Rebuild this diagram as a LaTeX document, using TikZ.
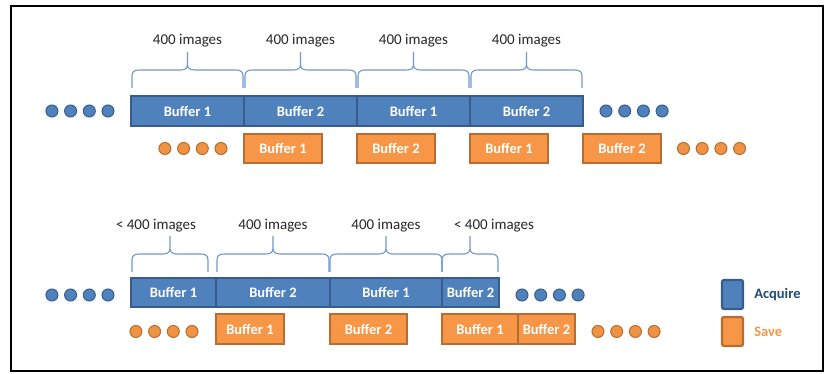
\documentclass[tikz,border=0pt]{standalone}
\usepackage{fontspec}
\setmainfont{Carlito}
\usepackage{tikz}
\usetikzlibrary{positioning,calc}

\definecolor{acqfill}{HTML}{4F81BD}
\definecolor{acqline}{HTML}{385D8A}
\definecolor{acqtext}{HTML}{1F497D}
\definecolor{savefill}{HTML}{F79646}
\definecolor{saveline}{HTML}{B66D31}
\definecolor{bracecol}{HTML}{6F98CC}

% #1 tip name, #2 left point, #3 right point, #4 raise above the bar
\newcommand{\imgbrace}[4]{%
  \draw[brace line] let \p1=#2, \p2=#3 in
    (\x1,\y1+#4) -- (\x1,\y1+#4+12pt)
    .. controls (\x1,\y1+#4+16pt) and (\x1+2pt,\y1+#4+18pt) .. (\x1+7pt,\y1+#4+18pt)
    -- ({(\x1+\x2)/2-7pt},\y1+#4+18pt)
    .. controls ({(\x1+\x2)/2-2pt},\y1+#4+18pt) and ({(\x1+\x2)/2},\y1+#4+20pt) .. ({(\x1+\x2)/2},\y1+#4+24pt)
    -- ({(\x1+\x2)/2},\y1+#4+36pt) coordinate (#1)
    ({(\x1+\x2)/2},\y1+#4+24pt)
    .. controls ({(\x1+\x2)/2},\y1+#4+20pt) and ({(\x1+\x2)/2+2pt},\y1+#4+18pt) .. ({(\x1+\x2)/2+7pt},\y1+#4+18pt)
    -- (\x2-7pt,\y1+#4+18pt)
    .. controls (\x2-2pt,\y1+#4+18pt) and (\x2,\y1+#4+16pt) .. (\x2,\y1+#4+12pt)
    -- (\x2,\y1+#4);%
}

\begin{document}
\begin{tikzpicture}[x=1pt,y=-1pt,
		acq/.style={draw=acqline, fill=acqfill, line width=1.6pt,
			minimum height=30pt, inner sep=0pt, outer sep=0pt,
			text=white, font=\fontsize{14.5}{16}\selectfont\bfseries},
		save/.style={draw=saveline, fill=savefill, line width=1.6pt,
			minimum height=30pt, inner sep=0pt, outer sep=0pt,
			text=white, font=\fontsize{14.5}{16}\selectfont\bfseries},
		bdot/.style={circle, draw=acqline, fill=acqfill, line width=1pt,
			minimum size=12pt, inner sep=0pt},
		odot/.style={circle, draw=saveline, fill=savefill!90!saveline, line width=1pt,
			minimum size=12pt, inner sep=0pt},
		brace line/.style={draw=bracecol, line width=1.1pt},
		lbl/.style={text=black!85, inner sep=1pt,
			font=\fontsize{15}{17}\selectfont},
		key/.style={line width=2.2pt, rounded corners=2pt,
			minimum width=21pt, minimum height=29pt, inner sep=0pt},
		keytext/.style={inner sep=0pt, font=\fontsize{14.5}{16}\selectfont\bfseries}
	]
		\useasboundingbox (0,0) rectangle (825,374);
		\draw[line width=2.5pt] (11,6) rectangle (823,371);

		% first run
		\node[acq, minimum width=113pt] (t1) at (187.5,111) {Buffer 1};
		\node[acq, minimum width=113pt, right=0pt of t1] (t2) {Buffer 2};
		\node[acq, minimum width=113pt, right=0pt of t2] (t3) {Buffer 1};
		\node[acq, minimum width=113pt, right=0pt of t3] (t4) {Buffer 2};

		\node[save, minimum width=78pt, minimum height=29pt,
			below right=8pt and 0pt of t2.south west] (s1) {Buffer 1};
		\node[save, minimum width=78pt, minimum height=29pt,
			below right=8pt and 0pt of t3.south west] (s2) {Buffer 2};
		\node[save, minimum width=78pt, minimum height=29pt,
			below right=8pt and 0pt of t4.south west] (s3) {Buffer 1};
		\node[save, minimum width=78pt, minimum height=29pt,
			below right=8pt and 0pt of t4.south east] (s4) {Buffer 2};

		\foreach \i in {0,...,3} {
			\node[bdot] (tl\i) at ([xshift={-23pt-\i*18.7pt}]t1.west) {};
			\node[bdot] (tr\i) at ([xshift={23pt+\i*18.7pt}]t4.east) {};
			\node[odot] (sl\i) at ([xshift={-23pt-\i*18.7pt}]s1.west) {};
			\node[odot] (sr\i) at ([xshift={22.5pt+\i*18.7pt}]s4.east) {};
		}

		\imgbrace{tb1}{([xshift=1pt]t1.north west)}{([xshift=-1pt]t1.north east)}{8pt}
		\imgbrace{tb2}{([xshift=1pt]t2.north west)}{([xshift=-1pt]t2.north east)}{8pt}
		\imgbrace{tb3}{([xshift=1pt]t3.north west)}{([xshift=-1pt]t3.north east)}{8pt}
		\imgbrace{tb4}{([xshift=1pt]t4.north west)}{([xshift=-1pt]t4.north east)}{8pt}

		\node[lbl, above=3.5pt of tb1] (n1) {400 images};
		\node[lbl, above=3.5pt of tb2] (n2) {400 images};
		\node[lbl, above=3.5pt of tb3] (n3) {400 images};
		\node[lbl, above=3.5pt of tb4] (n4) {400 images};

		% second run
		\node[acq, minimum width=85pt, minimum height=29pt] (b1) at (173.5,292.5) {Buffer 1};
		\node[acq, minimum width=114pt, minimum height=29pt, right=0pt of b1] (b2) {Buffer 2};
		\node[acq, minimum width=112pt, minimum height=29pt, right=0pt of b2] (b3) {Buffer 1};
		\node[acq, minimum width=57pt, minimum height=29pt, right=0pt of b3] (b4) {Buffer 2};

		\node[save, minimum width=68pt,
			below right=7pt and 0pt of b2.south west] (u1) {Buffer 1};
		\node[save, minimum width=77pt,
			below right=7pt and 0pt of b3.south west] (u2) {Buffer 2};
		\node[save, minimum width=76pt,
			below right=7pt and 0pt of b4.south west] (u3) {Buffer 1};
		\node[save, minimum width=57pt, right=0pt of u3] (u4) {Buffer 2};

		\foreach \i in {0,...,3} {
			\node[bdot] (bl\i) at ([xshift={-23pt-\i*18.7pt}, yshift=-2.5pt]b1.west) {};
			\node[bdot] (br\i) at ([xshift={23pt+\i*18.7pt}, yshift=-2.5pt]b4.east) {};
			\node[odot] (ul\i) at ([xshift={-24pt-\i*18.7pt}, yshift=-2.5pt]u1.west) {};
			\node[odot] (ur\i) at ([xshift={23pt+\i*18.7pt}, yshift=-2.5pt]u4.east) {};
		}

		\imgbrace{bb1}{([xshift=1pt]b1.north west)}{([xshift=-8pt]b1.north east)}{6pt}
		\imgbrace{bb2}{([xshift=1pt]b2.north west)}{([xshift=-1pt]b2.north east)}{6pt}
		\imgbrace{bb3}{([xshift=0pt]b3.north west)}{([xshift=0pt]b3.north east)}{6pt}
		\imgbrace{bb4}{([xshift=0pt]b4.north west)}{([xshift=-1pt]b4.north east)}{6pt}

		\node[lbl, above=3pt of bb1, xshift=-14pt] (m1) {< 400 images};
		\node[lbl, above=3pt of bb2] (m2) {400 images};
		\node[lbl, above=3pt of bb3] (m3) {400 images};
		\node[lbl, above=3pt of bb4, xshift=24pt] (m4) {< 400 images};

		% legend
		\node[key, draw=acqline, fill=acqfill] (ka) at (732.5,294.5) {};
		\node[key, draw=saveline, fill=savefill] (ks) at (732.5,331.5) {};
		\node[keytext, text=acqtext, right=10pt of ka] (kat) {Acquire};
		\node[keytext, text=savefill, right=10pt of ks] (kst) {Save};
	\end{tikzpicture}
\end{document}
